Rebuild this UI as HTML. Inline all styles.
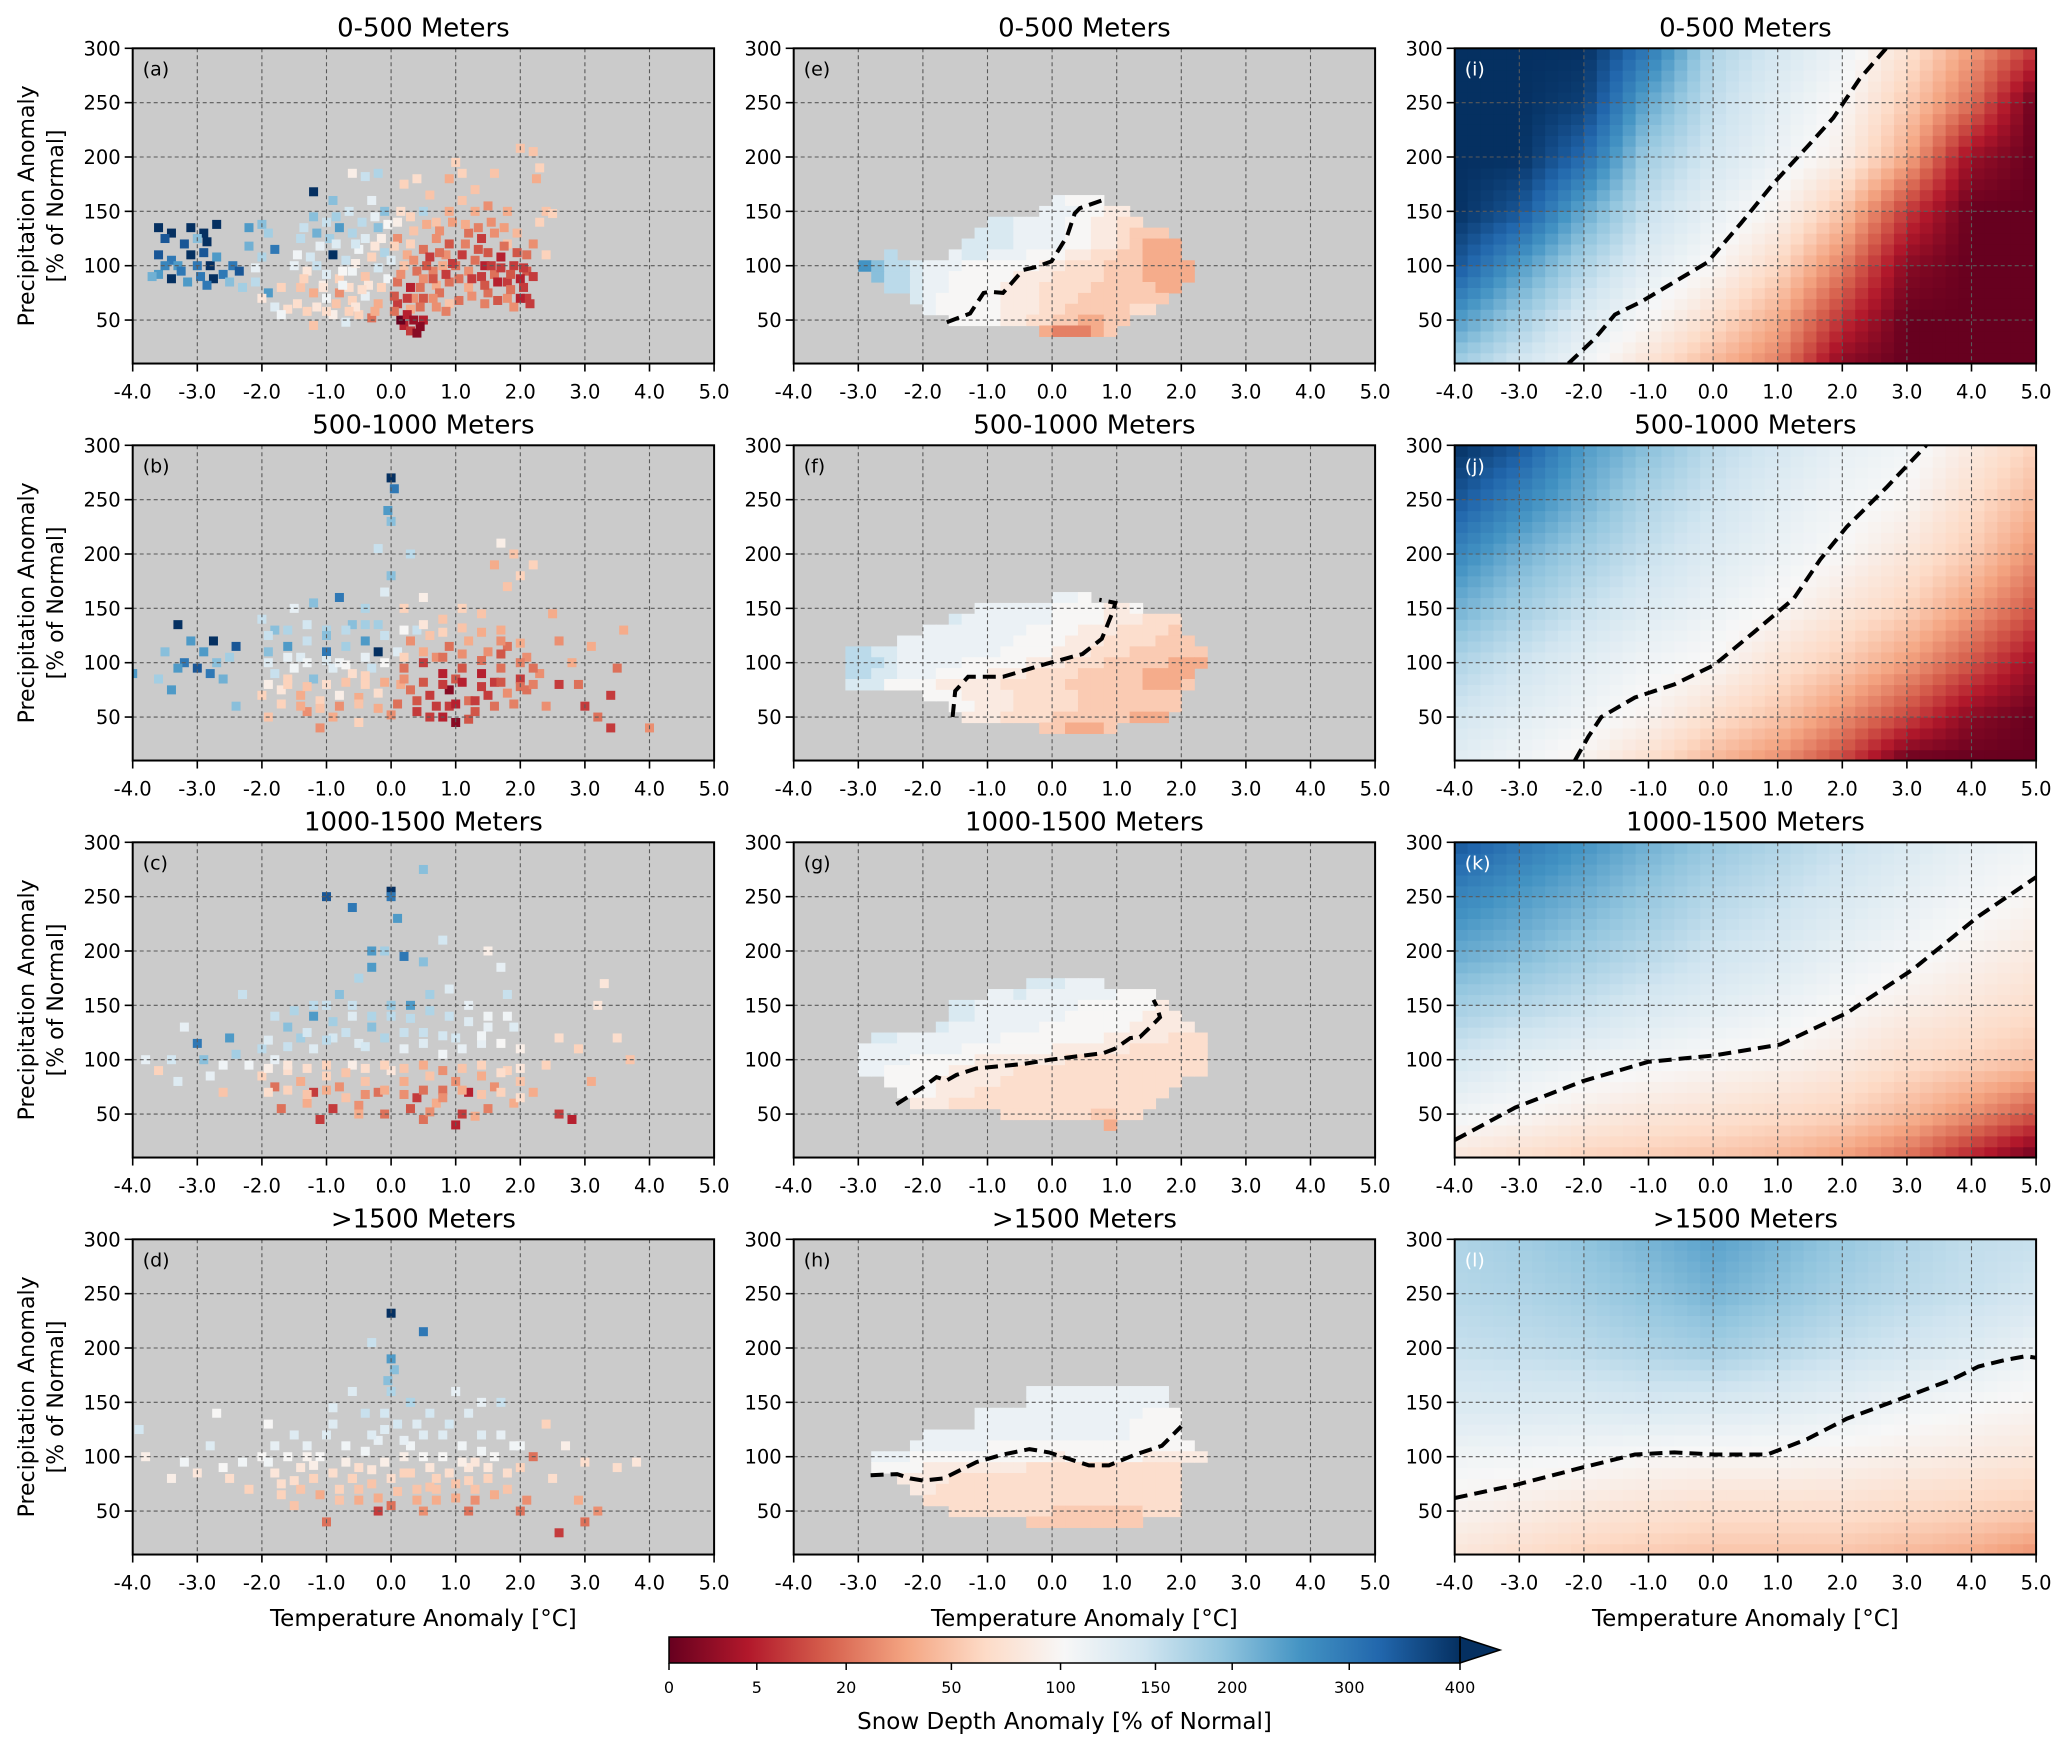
<!DOCTYPE html>
<html><head><meta charset="utf-8"><style>
html,body{margin:0;padding:0;background:#fff;}
svg{display:block;font-family:"DejaVu Sans","Liberation Sans",sans-serif;}
</style></head><body>
<svg id="chart" xmlns="http://www.w3.org/2000/svg" width="2067" height="1744" viewBox="0 0 2067 1744">
<defs>
<linearGradient id="cbgrad" x1="0" x2="1" y1="0" y2="0">
<stop offset="0" stop-color="rgb(103,0,31)"/><stop offset="0.1" stop-color="rgb(178,24,43)"/><stop offset="0.2" stop-color="rgb(214,96,77)"/><stop offset="0.3" stop-color="rgb(244,165,130)"/><stop offset="0.4" stop-color="rgb(253,219,199)"/><stop offset="0.5" stop-color="rgb(247,247,247)"/><stop offset="0.6" stop-color="rgb(209,229,240)"/><stop offset="0.7" stop-color="rgb(146,197,222)"/><stop offset="0.8" stop-color="rgb(67,147,195)"/><stop offset="0.9" stop-color="rgb(33,102,172)"/><stop offset="1" stop-color="rgb(5,48,97)"/>
</linearGradient>
</defs>
</svg>
<script>
// ---------- data ----------
const rowTitles = ['0-500 Meters','500-1000 Meters','1000-1500 Meters','>1500 Meters'];
const xTicks = [-4,-3,-2,-1,0,1,2,3,4,5];
const yTicks = [50,100,150,200,250,300];
const cbTickVals = [0,5,20,50,100,150,200,300,400];
const levelChars = 'ABCDEFGHIJKLMNO';
const levelVals = [0,10,25,40,55,70,85,100,115,135,160,200,260,350,400];

const scatterA = [[-3.6,135,400],[-3.4,130,400],[-3.1,135,400],[-2.9,130,400],[-2.7,138,400],[-3.5,125,350],[-3.2,120,350],[-2.85,122,400],[-3.6,110,350],[-3.4,105,300],[-3.1,110,400],[-2.9,112,350],[-3.3,100,250],[-3.0,100,300],[-2.8,100,400],[-3.6,92,250],[-3.4,88,400],[-3.15,85,250],[-2.95,90,300],[-2.75,88,400],[-2.6,92,300],[-2.45,100,300],[-2.7,108,250],[-3.7,90,220],[-2.5,85,200],[-2.35,95,350],[-3.0,125,200],[-3.25,95,300],[-2.85,82,300],[-3.5,100,280],
[-2.2,135,250],[-2.0,138,200],[-1.9,130,180],[-2.2,118,220],[-2.0,108,170],[-1.8,115,300],[-2.1,85,160],[-1.9,75,250],[-2.1,98,120],[-1.8,62,130],[-2.3,80,180],[-2.0,70,80],[-1.7,80,60],
[-1.2,168,400],[-0.9,160,200],[-0.6,185,90],[-0.4,182,150],[-0.2,185,170],[-0.3,160,120],[-0.1,150,200],[-1.2,145,200],[-1.0,140,150],[-0.8,135,250],[-0.6,130,170],[-0.4,125,130],[-0.2,135,200],[-1.4,125,160],[-1.1,118,120],[-0.9,110,400],[-0.7,105,150],[-0.5,115,110],[-0.3,108,60],[-0.1,112,170],[-1.5,100,120],[-1.3,95,80],[-1.0,92,130],[-0.8,88,60],[-0.6,95,110],[-0.4,90,50],[-0.2,98,140],[-1.4,80,50],[-1.2,75,40],[-1.0,70,110],[-0.8,75,30],[-0.6,68,60],[-0.4,72,120],[-0.2,65,40],[-1.6,60,70],[-1.3,58,60],[-0.9,55,90],[-0.5,55,60],[-0.3,52,20],[-1.2,45,50],[-0.7,48,130],[-1.7,55,110],[-0.95,125,180],[-0.55,120,140],[-0.15,125,90],[-1.25,108,140],[-0.75,95,100],[-0.35,82,80],[-1.05,82,90],[-0.65,80,70],[-0.05,88,110],
[0.1,140,90],[0.3,145,60],[0.5,150,170],[0.7,140,50],[0.9,150,40],[0.2,175,60],[0.4,180,70],[0.6,165,50],[0.9,180,40],[1.0,195,60],[0.1,125,30],[0.3,120,60],[0.5,115,20],[0.7,125,30],[0.9,120,15],[0.0,105,130],[0.2,100,50],[0.4,95,20],[0.6,108,10],[0.8,100,40],[0.1,85,20],[0.3,80,5],[0.5,88,30],[0.7,82,40],[0.9,85,20],[0.1,65,10],[0.3,60,40],[0.5,70,15],[0.7,62,30],[0.9,65,50],[0.2,45,5],[0.3,40,10],[0.4,38,2],[0.5,50,5],[0.15,50,0],[0.45,44,2],[0.25,110,40],[0.65,95,25],[0.85,110,30],[0.35,70,30],[0.75,75,20],
[1.1,160,50],[1.3,150,40],[1.5,155,30],[1.8,150,40],[1.2,130,20],[1.4,125,10],[1.6,130,30],[1.8,120,50],[1.1,110,10],[1.3,105,20],[1.5,112,15],[1.7,108,5],[1.9,100,10],[2.1,95,15],[1.2,95,30],[1.4,90,10],[1.6,92,20],[1.8,85,10],[2.0,88,5],[2.2,90,10],[1.2,80,40],[1.5,75,20],[1.8,70,30],[2.1,70,10],[2.15,65,10],[1.9,62,30],[1.3,170,50],[2.0,208,50],[2.2,205,50],[2.3,190,60],[2.25,180,40],[2.4,150,50],[2.3,140,60],[2.5,148,60],[2.4,110,60],[2.2,120,30],[1.6,185,50],[1.1,185,60],[1.0,100,20],[1.7,98,10],[1.45,100,5],[2.05,80,10],
[-1.35,135,150],[-1.15,130,220],[-0.85,145,180],[-0.65,150,140],[-0.45,140,160],[-0.25,145,120],[-0.05,138,100],[0.15,150,70],[0.35,132,50],[0.55,138,40],[0.75,132,30],[0.95,140,35],[1.15,138,40],[1.35,135,25],[1.55,140,30],[1.75,135,35],[1.95,130,45],
[-1.45,110,110],[-1.15,100,150],[-0.85,120,130],[-0.55,102,90],[-0.25,118,80],[0.05,118,60],[0.35,105,30],[0.55,100,15],[0.75,112,20],[0.95,102,10],[1.15,120,25],[1.35,115,15],[1.55,100,10],[1.75,118,20],[1.95,112,15],[2.1,110,20],
[-1.35,88,60],[-1.05,80,80],[-0.75,82,110],[-0.45,78,70],[-0.15,80,60],[0.15,92,30],[0.45,80,20],[0.65,88,15],[0.85,92,10],[1.05,88,20],[1.25,88,10],[1.45,82,15],[1.65,85,5],[1.85,92,15],[2.05,98,10],
[-1.45,65,70],[-1.15,62,80],[-0.85,65,50],[-0.55,62,80],[-0.25,58,40],[0.05,72,15],[0.25,70,10],[0.45,62,20],[0.65,70,30],[0.85,58,25],[1.05,68,20],[1.25,72,30],[1.45,65,25],[1.65,68,15],[1.85,78,20],[2.0,70,5],
[0.25,55,5],[0.35,50,3],[0.05,58,20],[-0.65,58,60],[-1.0,58,70]];

const scatterB = [[-4.0,90,250],[-3.5,110,200],[-3.3,135,400],[-3.2,100,300],[-3.0,95,350],[-2.8,90,300],[-2.9,110,250],[-2.7,100,200],[-2.6,85,220],[-3.1,120,250],[-2.5,105,180],[-3.4,75,250],[-2.4,60,200],[-3.3,95,250],[-2.75,120,400],[-2.4,115,350],[-3.6,85,180],
[-2.0,140,150],[-1.8,130,200],[-1.5,150,120],[-1.2,155,200],[-0.8,160,300],[-0.4,150,170],[-0.1,165,130],[-1.9,110,200],[-1.6,115,250],[-1.3,120,150],[-1.0,110,300],[-0.7,115,180],[-0.4,120,250],[-0.2,110,400],[-1.8,90,150],[-1.5,95,110],[-1.2,85,200],[-0.9,95,130],[-0.6,90,70],[-0.3,95,150],[-2.0,70,60],[-1.7,75,80],[-1.4,70,40],[-1.1,65,60],[-0.8,70,90],[-0.5,68,40],[-0.2,72,70],[-1.9,50,50],[-1.3,55,30],[-0.9,50,40],[-0.5,45,60],[-1.1,40,30],[-1.0,130,170],[-0.6,135,200],[-0.2,135,180],[-1.4,105,130],[-0.8,100,110],[-0.4,80,60],[-1.6,80,60],
[0.0,270,400],[0.05,260,300],[-0.05,240,250],[0.0,230,200],[-0.2,205,150],[0.3,200,160],[0.0,180,200],
[0.2,150,60],[0.5,160,90],[0.8,140,50],[1.1,150,60],[1.4,145,50],[1.7,130,40],[0.3,120,30],[0.6,125,50],[0.9,115,20],[1.2,120,40],[1.5,110,30],[1.8,115,20],[2.1,105,30],[0.2,95,20],[0.5,100,10],[0.8,90,5],[1.1,95,15],[1.4,90,5],[1.7,95,20],[2.0,85,10],[2.3,90,30],[0.3,75,20],[0.6,70,10],[0.9,75,2],[1.2,65,20],[1.5,70,10],[1.8,72,30],[2.1,75,20],[0.4,55,10],[0.8,50,5],[1.0,45,2],[1.3,55,15],[0.9,60,10],[0.1,110,130],[0.4,130,150],[0.7,105,30],[1.0,85,15],[1.6,82,10],[0.15,80,40],
[1.7,210,90],[1.9,200,50],[2.0,180,60],[1.6,190,40],[2.2,190,60],[1.8,170,50],[2.6,120,30],[2.8,100,40],[2.9,80,20],[3.0,60,10],[3.2,50,20],[3.4,70,10],[2.6,80,10],[2.4,60,30],[3.1,115,40],[3.6,130,40],[3.5,95,20],[4.0,40,30],[3.4,40,10],[2.5,145,40],
[-1.9,125,150],[-1.6,130,170],[-1.3,135,140],[-1.0,125,200],[-0.7,130,160],[-0.4,135,180],[-0.1,125,150],[0.2,130,100],[0.5,135,80],[0.8,128,60],[1.1,132,50],[1.4,128,40],[1.7,120,30],[2.0,118,40],
[-1.9,100,130],[-1.6,105,120],[-1.3,100,110],[-1.0,102,130],[-0.7,98,100],[-0.4,105,120],[-0.1,100,100],[0.2,105,60],[0.5,110,40],[0.8,105,20],[1.1,108,30],[1.4,102,20],[1.7,108,15],[2.0,100,25],[2.2,95,20],
[-1.9,80,90],[-1.6,85,60],[-1.3,78,50],[-1.0,80,70],[-0.7,82,50],[-0.4,88,60],[-0.1,82,40],[0.2,85,30],[0.5,82,15],[0.8,80,10],[1.1,82,5],[1.4,78,10],[1.7,82,15],[2.0,78,20],[2.2,80,25],
[-1.7,62,60],[-1.4,60,40],[-1.1,58,50],[-0.8,60,30],[-0.5,62,50],[-0.2,58,40],[0.1,62,20],[0.4,65,15],[0.7,60,10],[1.0,62,5],[1.3,65,10],[1.6,60,20],[1.9,62,25],[0.6,50,10],[1.2,48,15],[0.0,52,30]];

const scatterC = [[-3.4,100,140],[-3.0,115,300],[-3.2,130,120],[-2.9,100,200],[-2.8,85,120],[-2.6,95,110],[-2.5,120,250],[-2.4,105,180],[-3.3,80,130],[-2.6,70,50],[-3.6,90,60],[-3.8,100,120],[-2.3,160,150],
[-2.0,110,160],[-1.8,100,120],[-1.6,130,200],[-1.4,120,180],[-1.2,140,250],[-1.0,150,150],[-0.8,160,200],[-0.5,175,170],[-0.3,185,250],[-0.1,200,180],[0.2,195,300],[-0.6,140,130],[-0.3,130,200],[0.0,140,160],[0.3,150,250],[0.6,160,180],[0.9,165,130],[1.2,150,120],[1.5,140,110],[1.8,160,150],[1.9,130,130],[-0.9,120,140],[-0.5,115,130],[0.5,125,150],[1.0,120,140],[1.4,115,120],[-1.2,110,130],[0.2,110,120],[0.8,105,110],
[-2.0,85,60],[-1.8,75,20],[-1.6,90,70],[-1.4,80,40],[-1.2,70,10],[-1.0,85,60],[-0.8,75,30],[-0.6,95,90],[-0.4,80,50],[-0.2,70,20],[0.0,90,80],[0.2,80,40],[0.4,65,10],[0.6,85,50],[0.8,72,20],[1.0,80,30],[1.2,70,5],[1.4,85,40],[1.6,75,30],[1.8,90,60],[2.0,80,50],[2.2,70,40],[-1.7,55,20],[-1.3,60,40],[-0.9,55,10],[-0.5,58,30],[-0.1,50,20],[0.3,55,15],[0.7,60,40],[1.1,50,10],[1.5,55,25],[1.9,60,40],[-1.1,45,10],[0.5,45,20],[1.0,40,5],[2.6,50,10],[2.8,45,5],[2.4,95,60],[2.6,120,70],[2.9,110,60],[3.1,80,40],[3.2,150,80],[3.5,120,70],[3.3,170,80],[3.7,100,50],
[0.0,255,400],[0.0,250,300],[0.5,275,200],[-1.0,250,350],[-0.3,200,250],[0.5,190,200],[0.8,210,140],[1.7,185,120],[1.5,200,90],[-0.6,240,300],[0.1,230,250],
[-1.8,140,150],[-1.5,145,170],[-1.2,150,160],[-0.9,135,180],[-0.6,150,150],[-0.3,140,170],[0.0,150,190],[0.3,138,160],[0.6,145,170],[0.9,140,150],[1.2,135,130],[1.5,130,120],[1.8,140,110],
[-1.9,118,130],[-1.6,112,150],[-1.3,125,140],[-1.0,118,160],[-0.7,125,150],[-0.4,112,140],[-0.1,120,170],[0.2,125,150],[0.5,115,130],[0.8,122,140],[1.1,110,120],[1.4,122,110],[1.7,115,100],[2.0,110,90],
[-2.2,95,110],[-1.9,92,90],[-1.6,95,80],[-1.3,92,70],[-1.0,95,60],[-0.7,88,50],[-0.4,92,70],[-0.1,95,60],[0.2,92,50],[0.5,95,40],[0.8,90,30],[1.1,92,50],[1.4,95,60],[1.7,88,70],[2.0,92,80],
[-1.9,70,70],[-1.6,72,60],[-1.3,68,50],[-1.0,72,40],[-0.7,65,50],[-0.4,68,30],[-0.1,72,40],[0.2,68,30],[0.5,72,20],[0.8,65,30],[1.1,72,40],[1.4,68,50],[1.7,70,60],[2.0,65,70],[-0.5,50,40],[0.6,52,30],[1.3,48,40]];

const scatterD = [[-3.9,125,140],[-3.8,100,90],[-3.2,95,110],[-3.0,85,80],[-2.8,110,130],[-2.6,90,100],[-2.5,80,70],[-2.3,95,110],[-3.4,80,90],[-2.2,70,60],[-2.0,100,100],[-1.8,110,120],[-1.7,75,70],[-1.5,120,130],[-1.4,90,80],[-1.2,80,60],[-1.1,100,100],[-0.9,130,130],[-0.8,70,60],[-0.7,110,110],[-0.5,90,70],[-0.4,140,150],[-0.3,75,50],[-0.2,115,120],[-0.1,95,90],[0.0,160,170],[0.1,130,140],[0.2,85,60],[0.3,110,110],[0.4,70,50],[0.5,120,130],[0.6,90,80],[0.7,60,40],[0.8,100,100],[0.9,130,140],[1.0,75,50],[1.1,110,110],[1.2,90,80],[1.3,60,30],[1.4,120,130],[1.5,80,60],[1.6,100,100],[1.7,150,150],[1.8,70,50],[1.9,110,110],[2.0,90,60],[2.1,60,30],[2.2,100,20],[2.4,130,60],[2.5,80,70],[2.7,110,90],[2.9,60,40],[3.0,95,70],[3.2,50,30],[3.5,90,70],[3.8,95,80],[2.6,30,10],[3.0,40,20],[-1.0,40,20],[-0.5,60,40],[0.0,55,20],[0.5,50,30],[-1.5,55,50],[0.0,190,250],[0.05,180,200],[-0.05,170,200],[0.0,232,400],[0.5,215,300],[-0.3,205,150],[0.3,150,170],[-0.6,160,130],[1.0,160,120],[1.4,150,120],[-1.9,130,100],[-2.7,140,100],[-0.2,50,10],[1.2,50,20],[2.0,50,20],[-1.3,100,95],[-0.6,80,70],[0.2,100,90],[0.7,80,60],[1.3,95,80],[-0.3,120,130],[0.6,140,140],
[-1.9,95,110],[-1.6,100,100],[-1.3,110,120],[-1.0,120,130],[-0.7,95,90],[-0.4,105,110],[-0.1,125,130],[0.2,115,120],[0.5,100,100],[0.8,120,130],[1.1,95,90],[1.4,105,110],[1.7,120,120],[2.0,110,110],
[-1.8,85,80],[-1.5,78,70],[-1.2,92,90],[-0.9,85,70],[-0.6,80,60],[-0.3,88,80],[0.0,80,70],[0.3,85,60],[0.6,72,50],[0.9,85,70],[1.2,78,60],[1.5,90,80],[1.8,85,70],
[-1.7,65,60],[-1.4,70,50],[-1.1,65,40],[-0.8,60,50],[-0.5,70,50],[-0.2,62,40],[0.1,68,50],[0.4,60,40],[0.7,70,50],[1.0,62,40],[1.3,70,50],[1.6,65,40],[-0.1,140,140],[0.4,130,130],[-0.9,145,130],[1.2,140,130]];

// masked heatmaps: [precip centre, temperature start, level chars (0.2 C per cell)]
const heatE = [[160,0.0,'IHHH'],[150,-0.2,'IIIHHGG'],[140,-1.0,'JJIIIIHHGGFF'],[130,-1.2,'JJJIIIIHHGGFEEE'],[120,-1.4,'JJJJIIIIHHGGFEDDD'],[110,-2.6,'K'],[110,-1.6,'IJJIIIHHHGGFFEEDDD'],[100,-3.0,'MLKKJIIIHHHHHHGGFFFEEEDDDD'],[90,-2.8,'LKKJIIHHHHHGGGFFFFEEEDDDD'],[80,-2.6,'KKJIIHHHHGGGFFFFEEEEEDD'],[70,-2.2,'JIHHHHHGGGFFFEEEEEEE'],[60,-2.0,'IHHHHHGGGFFEEEEEFF'],[50,-1.6,'HHHHGGFFEEDDEE'],[40,-0.2,'DCCCDE']];
const heatF = [[160,0.0,'IIH'],[150,-1.2,'IIIIIIHHHHGGH'],[140,-1.6,'JIIIIIIIHHHHGGGFFF'],[130,-2.0,'IIIIIIIIHHHHGGGFFFFE'],[120,-2.4,'IIIIIIIIIHHHHGGGFFFFEEE'],[110,-3.2,'KKJJIIIIIIIIHHHHGGGFFFEEEEEE'],[100,-3.2,'KKKJIIIIIHHHHHGGGFFFEEEEEDDD'],[90,-3.2,'KKJJIIIHHHHGGGFFFFEEEEEDDDD'],[80,-3.2,'JJJHHHHGGGGGFFFFFEEEEEEDDDE'],[70,-2.0,'HHHGGGGFFFFFEEEEEEEE'],[60,-1.6,'HHGGGFFFFFEEEEEEEE'],[50,-1.4,'GGGFFFFEEEEEEDDD'],[40,-0.2,'EEDDDE']];
const heatG = [[170,-0.4,'JJJIII'],[160,-1.0,'IIJIIIIIIIHHH'],[150,-1.6,'JJIIIIIIIIHHHHHHG'],[140,-1.6,'JJIIIIIIIHHHHHHGGG'],[130,-1.8,'JIIIIIIIHHHHHHHGGGGG'],[120,-2.8,'JJIIIIIIIIHHHHHHHHGGGGGFFF'],[110,-3.0,'IIIIIIIIHHHHHHHGGGGGGFFFFFF'],[100,-3.0,'IIIIHHHHHGGGGGGGFFFFFFFFFFF'],[90,-3.0,'IIHHHHHGGGGGFFFFFFFFFFFFFFF'],[80,-2.6,'HHHHGGGGGFFFFFFFFFFFFFF'],[70,-2.4,'HHHGGGFFFFFFFFFFFFFFF'],[60,-2.2,'GGGFFFFFFFFFFFFFFFF'],[50,-0.8,'FFFFFFFEEFF'],[40,0.8,'D']];
const heatH = [[160,-0.4,'IIIIIIIIIII'],[150,-0.4,'IIIIIIIIIII'],[140,-1.2,'IIIIIIIIIIIIIHHH'],[130,-1.2,'IIIIIIIIIIIIHHHH'],[120,-2.0,'IIIIIIIIIIIIIIIIHHHH'],[110,-2.2,'IIIIIIHHHHHHHHHHHHHHHH'],[100,-2.8,'IIIHHHHHHHHHHHGHHHHHHGGGGG'],[90,-2.8,'HHHHGGGGGGGGFFFFFFFFFFFF'],[80,-2.4,'GGGGFFFFFFFFFFFFFFFFFF'],[70,-2.2,'GGFFFFFFFFFFFFFFFFFFF'],[60,-2.0,'FFFFFFFFFFFFFFFFFFFF'],[50,-1.6,'FFFFFFFFEEEEEEEFFF'],[40,-0.4,'EEEEEEEEE']];

// full response fields (rows P=300,250,200,150,100,50,10; cols T=-4..5)
const fieldRowsP = [300,250,200,150,100,50,10];
const fieldI = [[400,400,400,300,170,140,115,75,35,10],[400,400,380,230,155,125,100,55,20,0],[400,400,320,180,140,115,90,40,3,0],[400,350,230,150,120,95,50,10,0,0],[350,250,170,125,100,65,25,2,0,0],[250,180,130,100,70,40,8,0,0,0],[180,140,110,75,45,25,2,0,0,0]];
const fieldJ = [[400,350,250,200,160,140,120,110,85,60],[350,280,220,170,145,125,110,98,70,45],[280,220,180,150,130,115,100,80,55,30],[220,180,150,130,115,100,80,60,35,15],[170,145,125,110,100,75,55,35,15,3],[140,125,110,95,70,50,30,12,2,0],[125,110,95,70,45,30,12,0,0,0]];
const fieldK = [[350,300,260,220,190,170,150,135,120,110],[280,250,220,190,165,150,135,120,108,98],[230,210,185,165,145,135,120,108,95,85],[180,165,150,135,125,115,102,90,80,70],[140,125,115,108,100,95,85,70,60,50],[110,100,88,80,75,68,60,45,30,15],[80,70,60,55,50,45,35,20,5,0]];
const fieldL = [[170,180,195,215,240,215,190,170,155,150],[165,170,180,195,215,195,175,160,150,140],[150,155,160,170,180,165,150,140,130,115],[135,135,135,138,135,130,122,112,105,98],[110,108,105,100,98,98,95,90,85,80],[95,88,80,75,70,70,70,65,60,55],[80,70,60,55,50,50,50,45,40,30]];

// 100% contours [T, P]
const contourE = [[-1.63,48],[-1.27,56],[-1.06,75],[-0.96,76],[-0.76,75],[-0.45,96],[-0.24,99],[-0.01,104],[0.23,127],[0.35,148],[0.43,153],[0.77,160]];
const contourF = [[-1.54,50],[-1.5,74],[-1.3,87],[-0.76,87],[-0.15,98],[0.47,108],[0.77,122],[0.94,147],[0.98,155],[0.73,158]];
const contourG = [[-2.41,59],[-1.99,75],[-1.79,84],[-1.63,81],[-1.48,86],[-1.17,92],[-0.45,96],[-0.03,100],[0.38,103],[0.79,106],[0.97,110],[1.21,120],[1.36,121],[1.52,130],[1.67,139],[1.62,149],[1.57,155]];
const contourH = [[-2.81,83],[-2.4,84],[-2.2,80],[-1.99,78],[-1.68,80],[-1.17,95],[-0.76,102],[-0.35,107],[-0.05,104],[0.26,98],[0.57,92],[0.88,92],[1.29,102],[1.7,110],[2.0,128]];
const contourI = [[-2.24,10],[-1.83,33],[-1.52,55],[-1.11,67],[-0.6,85],[-0.09,103],[0.43,139],[0.94,176],[1.45,209],[1.86,236],[2.27,272],[2.68,300]];
const contourJ = [[-2.14,10],[-1.93,32],[-1.73,50],[-1.21,68],[-0.6,80],[0.02,98],[0.63,128],[1.25,159],[1.66,195],[2.07,225],[2.68,261],[3.3,300]];
const contourK = [[-4,26],[-3.06,56],[-2.03,80],[-1.01,98],[0.02,104],[1.04,114],[2.07,143],[3.09,183],[4.11,232],[5.0,268]];
const contourL = [[-4,62],[-3.06,74],[-2.03,90],[-1.21,102],[-0.6,104],[0.02,102],[0.84,102],[1.45,116],[2.07,135],[2.89,153],[3.7,171],[4.11,183],[4.52,189],[4.84,192.5],[5.0,191]];

// ---------- layout ----------
const NS = 'http://www.w3.org/2000/svg';
const svg = document.getElementById('chart');
const colLeft = [132.7, 793.7, 1454.7];
const rowTop = [48.3, 445.3, 842.3, 1239.3];
const PXT = 64.6, PXP = 1.087;
const PW = 9*PXT, PH = 290*PXP;
function el(tag, parent){const e=document.createElementNS(NS,tag);parent.appendChild(e);return e;}
function at(e,o){for(const k in o)e.setAttribute(k,o[k]);return e;}
function xs(c,t){return colLeft[c]+(t+4)*PXT;}
function ys(r,p){return rowTop[r]+(300-p)*PXP;}

const RDBU=[[103,0,31],[178,24,43],[214,96,77],[244,165,130],[253,219,199],[247,247,247],[209,229,240],[146,197,222],[67,147,195],[33,102,172],[5,48,97]];
const cbFrac=[0,0.111,0.224,0.357,0.495,0.615,0.712,0.86,1];
function v2f(v){
  if(v<=cbTickVals[0])return 0;
  for(let i=1;i<cbTickVals.length;i++){if(v<=cbTickVals[i]){const a=cbTickVals[i-1],b=cbTickVals[i];return cbFrac[i-1]+(v-a)/(b-a)*(cbFrac[i]-cbFrac[i-1]);}}
  return 1;
}
function f2c(f){f=Math.max(0,Math.min(1,f));const s=f*10;const i=Math.min(9,Math.floor(s));const u=s-i;const a=RDBU[i],b=RDBU[i+1];
  return 'rgb('+Math.round(a[0]+(b[0]-a[0])*u)+','+Math.round(a[1]+(b[1]-a[1])*u)+','+Math.round(a[2]+(b[2]-a[2])*u)+')';}
function vcol(v){return f2c(v2f(v));}

const panels = [
 {id:'a',c:0,r:0,type:'scatter',data:scatterA},{id:'b',c:0,r:1,type:'scatter',data:scatterB},{id:'c',c:0,r:2,type:'scatter',data:scatterC},{id:'d',c:0,r:3,type:'scatter',data:scatterD},
 {id:'e',c:1,r:0,type:'heat',data:heatE,ct:contourE},{id:'f',c:1,r:1,type:'heat',data:heatF,ct:contourF},{id:'g',c:1,r:2,type:'heat',data:heatG,ct:contourG},{id:'h',c:1,r:3,type:'heat',data:heatH,ct:contourH},
 {id:'i',c:2,r:0,type:'field',data:fieldI,ct:contourI},{id:'j',c:2,r:1,type:'field',data:fieldJ,ct:contourJ},{id:'k',c:2,r:2,type:'field',data:fieldK,ct:contourK},{id:'l',c:2,r:3,type:'field',data:fieldL,ct:contourL}
];

panels.forEach(p=>{
  const c=p.c,r=p.r,L=colLeft[c],T=rowTop[r];
  const g=el('g',svg);
  
  
  const cp=el('clipPath',g);at(cp,{id:'clip-'+p.id});
  at(el('rect',cp),{x:L,y:T,width:PW,height:PH});
  const bg=el('rect',g);at(bg,{x:L,y:T,width:PW,height:PH,fill:'#cbcbcb'});
  
  
  const dg=el('g',g);at(dg,{'clip-path':'url(#clip-'+p.id+')'});
  
  
  if(p.type==='scatter'){
    p.data.forEach(d=>{
      const s=el('rect',dg);
      at(s,{x:xs(c,d[0])-4.5,y:ys(r,d[1])-4.5,width:9,height:9,fill:vcol(d[2])});
      
      
    });
  } else if(p.type==='heat'){
    p.data.forEach(row=>{
      const pc=row[0],t0=row[1],str=row[2];
      for(let i=0;i<str.length;i++){
        const v=levelVals[levelChars.indexOf(str[i])];
        const x0=xs(c,t0+i*0.2),x1=xs(c,t0+(i+1)*0.2),y0=ys(r,pc+5),y1=ys(r,pc-5);
        const cell=el('rect',dg);
        at(cell,{x:x0.toFixed(2),y:y0.toFixed(2),width:(x1-x0+0.6).toFixed(2),height:(y1-y0+0.6).toFixed(2),fill:vcol(v)});
        
        
      }
    });
  } else {
    const F=p.data.map(rw=>rw.map(v2f));
    function sample(t,pp){
      let ci=(t+4); ci=Math.max(0,Math.min(8.9999,ci)); const i0=Math.floor(ci),u=ci-i0;
      let rj=0; while(rj<fieldRowsP.length-2 && pp<fieldRowsP[rj+1]) rj++;
      const pa=fieldRowsP[rj],pb=fieldRowsP[rj+1]; let w=(pa-pp)/(pa-pb); w=Math.max(0,Math.min(1,w));
      const top=F[rj][i0]*(1-u)+F[rj][i0+1]*u, bot=F[rj+1][i0]*(1-u)+F[rj+1][i0+1]*u;
      return top*(1-w)+bot*w;
    }
    for(let pp=10;pp<300;pp+=10){
      for(let t=-4;t<4.999;t+=0.2){
        const f=sample(t+0.1,pp+5);
        const x0=xs(c,t),y0=ys(r,pp+10);
        const cell=el('rect',dg);
        at(cell,{x:x0.toFixed(2),y:y0.toFixed(2),width:(0.2*PXT+0.6).toFixed(2),height:(10*PXP+0.6).toFixed(2),fill:f2c(f)});
        
        
      }
    }
  }
  const gg=el('g',g);at(gg,{stroke:'#5a5a5a','stroke-width':1.1,'stroke-dasharray':'4 3',fill:'none'});
  
  
  xTicks.slice(1,-1).forEach(t=>{at(el('line',gg),{x1:xs(c,t),x2:xs(c,t),y1:T,y2:T+PH});});
  yTicks.slice(0,-1).forEach(v=>{at(el('line',gg),{x1:L,x2:L+PW,y1:ys(r,v),y2:ys(r,v)});});
  if(p.ct){
    const pl=el('polyline',g);
    at(pl,{points:p.ct.map(q=>xs(c,q[0]).toFixed(1)+','+ys(r,q[1]).toFixed(1)).join(' '),fill:'none',stroke:'#000','stroke-width':4,'stroke-dasharray':'13 7','clip-path':'url(#clip-'+p.id+')'});
    
    
  }
  const fr=el('rect',g);at(fr,{x:L,y:T,width:PW,height:PH,fill:'none',stroke:'#000','stroke-width':2});
  
  
  const tg=el('g',g);at(tg,{stroke:'#000','stroke-width':1.6});
  
  
  xTicks.forEach(t=>{at(el('line',tg),{x1:xs(c,t),x2:xs(c,t),y1:T+PH,y2:T+PH+8});});
  yTicks.forEach(v=>{at(el('line',tg),{x1:L-8,x2:L,y1:ys(r,v),y2:ys(r,v)});});
  xTicks.forEach(t=>{
    const tx=el('text',g);at(tx,{x:xs(c,t),y:T+PH+35,'text-anchor':'middle','font-size':19.5,fill:'#000'});
    tx.textContent=t.toFixed(1);
    
    
  });
  yTicks.forEach(v=>{
    const tx=el('text',g);at(tx,{x:L-12,y:ys(r,v)+7,'text-anchor':'end','font-size':19.5,fill:'#000'});
    tx.textContent=String(v);
    
    
  });
  const ti=el('text',g);at(ti,{x:L+PW/2,y:T-12,'text-anchor':'middle','font-size':26,fill:'#000'});
  ti.textContent=rowTitles[r];
  
  
  const lt=el('text',g);at(lt,{x:L+10,y:T+27,'font-size':19,fill:(p.type==='field'?'#fff':'#000')});
  lt.textContent='('+p.id+')';
  
  
  if(c===0){
    const cy=T+PH/2;
    const y1=el('text',g);at(y1,{x:0,y:0,transform:'translate(34,'+cy+') rotate(-90)','text-anchor':'middle','font-size':22,fill:'#000'});
    y1.textContent='Precipitation Anomaly';
    
    
    const y2=el('text',g);at(y2,{x:0,y:0,transform:'translate(63,'+cy+') rotate(-90)','text-anchor':'middle','font-size':22,fill:'#000'});
    y2.textContent='[% of Normal]';
    
    
  }
  if(r===3){
    const xl=el('text',g);at(xl,{x:L+PW/2,y:1626,'text-anchor':'middle','font-size':23,fill:'#000'});
    xl.textContent='Temperature Anomaly [°C]';
    
    
  }
});

const cbL=669, cbR=1460, cbT=1637, cbB=1663;
const cb=el('g',svg);


at(el('rect',cb),{x:cbL,y:cbT,width:cbR-cbL,height:cbB-cbT,fill:'url(#cbgrad)'});
const tri=el('polygon',cb);at(tri,{points:cbR+','+cbT+' '+(cbR+40)+','+((cbT+cbB)/2)+' '+cbR+','+cbB,fill:'rgb(5,48,97)',stroke:'#000','stroke-width':1.5});


at(el('rect',cb),{x:cbL,y:cbT,width:cbR-cbL,height:cbB-cbT,fill:'none',stroke:'#000','stroke-width':1.5});
cbTickVals.forEach(v=>{
  const x=cbL+v2f(v)*(cbR-cbL);
  at(el('line',cb),{x1:x,x2:x,y1:cbB,y2:cbB+7,stroke:'#000','stroke-width':1.5});
  const tx=el('text',cb);at(tx,{x:x,y:1693,'text-anchor':'middle','font-size':16,fill:'#000'});
  tx.textContent=String(v);
  
  
});
const cbl=el('text',cb);at(cbl,{x:(cbL+cbR)/2,y:1729,'text-anchor':'middle','font-size':23,fill:'#000'});
cbl.textContent='Snow Depth Anomaly [% of Normal]';


</script>
</body></html>
